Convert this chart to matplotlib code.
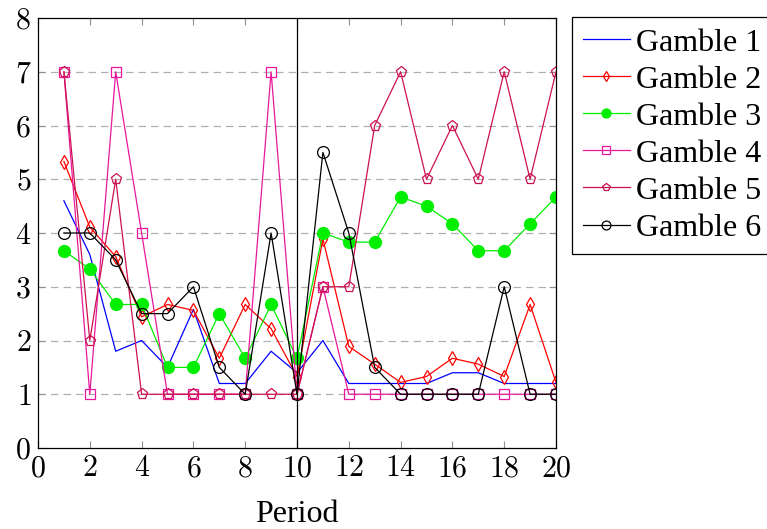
import matplotlib
matplotlib.use("Agg")
import matplotlib.pyplot as plt

periods = list(range(1, 21))
gamble1 = [4.6, 3.6, 1.8, 2.0, 1.5, 2.58, 1.2, 1.2, 1.8, 1.4, 2.0, 1.2, 1.2, 1.2, 1.2, 1.4, 1.4, 1.2, 1.2, 1.2]
gamble2 = [5.33, 4.11, 3.56, 2.44, 2.67, 2.56, 1.67, 2.67, 2.22, 1.33, 3.89, 1.89, 1.56, 1.22, 1.33, 1.67, 1.56, 1.33, 2.67, 1.22]
gamble3 = [3.67, 3.33, 2.67, 2.67, 1.5, 1.5, 2.5, 1.67, 2.67, 1.67, 4.0, 3.83, 3.83, 4.67, 4.5, 4.17, 3.67, 3.67, 4.17, 4.67]
gamble4 = [7, 1, 7, 4, 1, 1, 1, 1, 7, 1, 3, 1, 1, 1, 1, 1, 1, 1, 1, 1]
gamble5 = [7, 2, 5, 1, 1, 1, 1, 1, 1, 1, 3, 3, 6, 7, 5, 6, 5, 7, 5, 7]
gamble6 = [4, 4, 3.5, 2.5, 2.5, 3, 1.5, 1, 4, 1, 5.5, 4, 1.5, 1, 1, 1, 1, 3, 1, 1]
labels = ["Gamble 1", "Gamble 2", "Gamble 3", "Gamble 4", "Gamble 5", "Gamble 6"]
xticks = list(range(0, 21, 2))
yticks = list(range(0, 9))

plt.rcParams['font.family'] = ['cmr10', 'DejaVu Serif']
plt.rcParams['axes.formatter.use_mathtext'] = True

fig = plt.figure(figsize=(7.67, 5.29), dpi=100)
ax = fig.add_axes([38/767, 1 - 448/529, (556-38)/767, (448-18)/529])

styles = [
    dict(color='#0000ff', marker=None),
    dict(color='#ff0000', marker='d', markersize=7, markerfacecolor='none', markeredgewidth=0.9),
    dict(color='#00ee00', marker='o', markersize=8.5, markerfacecolor='#00ee00', markeredgecolor='#00ee00'),
    dict(color='#e8179b', marker='s', markersize=7.5, markerfacecolor='none', markeredgewidth=0.9),
    dict(color='#cc1150', marker='p', markersize=8, markerfacecolor='none', markeredgewidth=0.9),
    dict(color='black', marker='o', markersize=8.5, markerfacecolor='none', markeredgewidth=0.9),
]
series = [gamble1, gamble2, gamble3, gamble4, gamble5, gamble6]
for s, lab, st in zip(series, labels, styles):
    ax.plot(periods, s, linewidth=0.9, label=lab, **st)

ax.axvline(10, color='black', linewidth=0.9, zorder=5)
ax.set_xlim(0, 20)
ax.set_ylim(0, 8)
ax.set_xticks(xticks)
ax.set_yticks(yticks)
for y in yticks[1:-1]:
    ax.axhline(y, color='#b0b0b0', linewidth=0.9, linestyle=(0, (6, 4)), zorder=0)
ax.tick_params(direction='in', length=5, width=0.8, color='#909090', labelsize=21.5,
               top=True, right=True, pad=5)
for sp in ax.spines.values():
    sp.set_linewidth(0.9)
ax.set_xlabel("Period", fontsize=23, family='Liberation Serif', labelpad=13)

leg = ax.legend(loc='upper left', bbox_to_anchor=(572/767, 1 - 17/529), bbox_transform=fig.transFigure,
                prop={'family': 'Liberation Serif', 'size': 23}, frameon=True, fancybox=False,
                edgecolor='black', framealpha=1, handlelength=1.45, handletextpad=0.2,
                labelspacing=0.24, borderpad=0.35, borderaxespad=0, markerscale=0.75)
leg.get_frame().set_linewidth(0.9)

fig.savefig("out.png", dpi=100)
